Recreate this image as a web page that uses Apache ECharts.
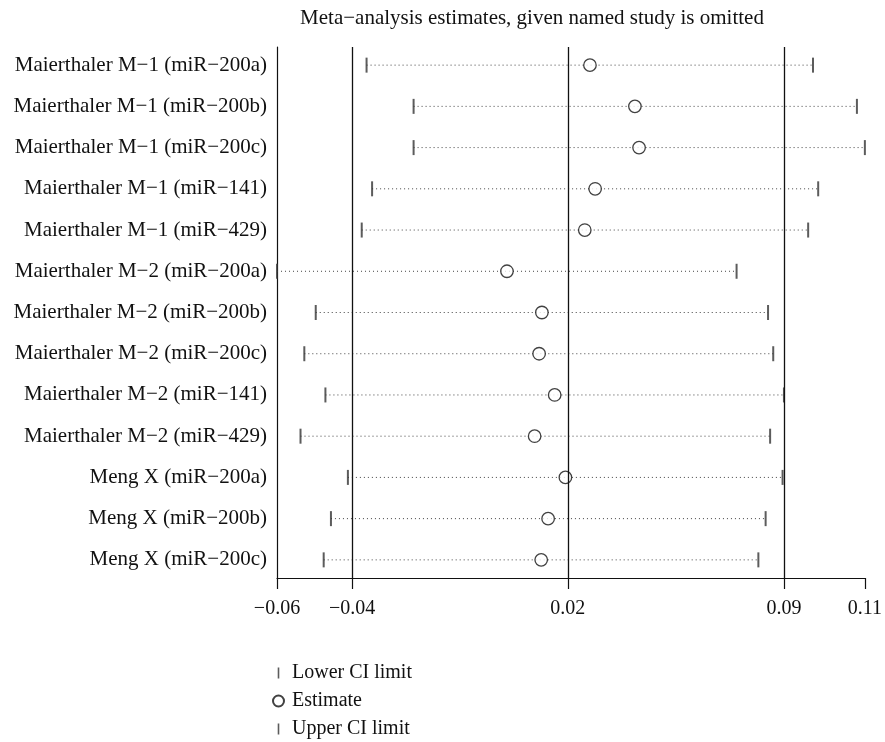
<!DOCTYPE html>
<html>
<head>
<meta charset="utf-8">
<script src="https://cdn.jsdelivr.net/npm/echarts@6/dist/echarts.min.js"></script>
<style>
  html, body { margin: 0; padding: 0; background: #fff; }
  #chart { width: 885px; height: 742px; }
</style>
</head>
<body>
<div id="chart"></div>
<script>
const studies = [
  'Maierthaler M\u22121 (miR\u2212200a)',
  'Maierthaler M\u22121 (miR\u2212200b)',
  'Maierthaler M\u22121 (miR\u2212200c)',
  'Maierthaler M\u22121 (miR\u2212141)',
  'Maierthaler M\u22121 (miR\u2212429)',
  'Maierthaler M\u22122 (miR\u2212200a)',
  'Maierthaler M\u22122 (miR\u2212200b)',
  'Maierthaler M\u22122 (miR\u2212200c)',
  'Maierthaler M\u22122 (miR\u2212141)',
  'Maierthaler M\u22122 (miR\u2212429)',
  'Meng X (miR\u2212200a)',
  'Meng X (miR\u2212200b)',
  'Meng X (miR\u2212200c)'
]
const lowerCI = [-0.0341, -0.0205, -0.0205, -0.0325, -0.0355, -0.0600, -0.0488, -0.0521, -0.0460, -0.0532, -0.0395, -0.0444, -0.0465]
const estimate = [0.0305, 0.0435, 0.0447, 0.0320, 0.0290, 0.0065, 0.0166, 0.0158, 0.0203, 0.0145, 0.0234, 0.0184, 0.0164]
const upperCI = [0.0950, 0.1077, 0.1100, 0.0965, 0.0936, 0.0729, 0.0820, 0.0835, 0.0866, 0.0826, 0.0862, 0.0813, 0.0792]

// overall lower CI, estimate, upper CI sit in the middle of the tick list
const xTickValues = [-0.06, -0.0383, 0.0241, 0.0866, 0.11]
const xTickLabels = ['\u22120.06', '\u22120.04', '0.02', '0.09', '0.11']
const refLines = xTickValues.slice(1, 4)

const serif = '"Liberation Serif", "DejaVu Serif", serif'
const barIcon = 'path://M0,0 L1.6,0 L1.6,11 L0,11 Z'

let chart = echarts.init(document.getElementById('chart'))
let option = {
  animation: false,
  backgroundColor: '#fff',
  title: {
    text: 'Meta\u2212analysis estimates, given named study is omitted',
    left: 527,
    textAlign: 'center',
    top: 3,
    textStyle: { fontFamily: serif, fontSize: 21, fontWeight: 'normal', color: '#111' }
  },
  legend: {
    orient: 'vertical',
    left: 272,
    top: 663,
    padding: 0,
    itemWidth: 11,
    itemHeight: 11,
    itemGap: 8,
    textStyle: { fontFamily: serif, fontSize: 20, color: '#111', padding: [0, 0, 0, 3] },
    data: [
      { name: 'Lower CI limit', icon: barIcon },
      { name: 'Estimate', icon: 'circle' },
      { name: 'Upper CI limit', icon: barIcon }
    ]
  },
  grid: {
    left: 277,
    right: 18,
    top: 47,
    bottom: 164
  },
  xAxis: {
    type: 'value',
    min: -0.06,
    max: 0.11,
    axisLine: { onZero: false, lineStyle: { color: '#111', width: 1.2 } },
    axisTick: { customValues: xTickValues, length: 11, lineStyle: { color: '#111', width: 1.2 } },
    axisLabel: {
      customValues: xTickValues,
      margin: 21,
      fontFamily: serif,
      fontSize: 20,
      color: '#111',
      formatter: v => xTickLabels[xTickValues.indexOf(v)]
    },
    splitLine: { show: false }
  },
  yAxis: {
    type: 'value',
    inverse: true,
    min: -0.44,
    max: 12.44,
    axisLine: { show: true, onZero: false, lineStyle: { color: '#111', width: 1.2 } },
    axisTick: { show: false },
    axisLabel: {
      customValues: studies.map((s, i) => i),
      margin: 10,
      fontFamily: serif,
      fontSize: 21,
      color: '#111',
      formatter: v => studies[v]
    },
    splitLine: { show: false }
  },
  series: [
    {
      name: 'CI',
      type: 'custom',
      silent: true,
      data: studies.map((s, i) => [lowerCI[i], upperCI[i], i]),
      encode: { x: [0, 1], y: 2 },
      renderItem: (params, api) => {
        const p1 = api.coord([api.value(0), api.value(2)])
        const p2 = api.coord([api.value(1), api.value(2)])
        return {
          type: 'line',
          shape: { x1: p1[0], y1: p1[1], x2: p2[0], y2: p2[1] },
          style: { stroke: '#444', lineWidth: 1, lineDash: [1, 3] }
        }
      }
    },
    {
      name: 'Lower CI limit',
      type: 'scatter',
      symbol: 'rect',
      symbolSize: [2, 15],
      itemStyle: { color: '#333' },
      data: lowerCI.map((v, i) => [v, i]),
      markLine: {
        silent: true,
        symbol: 'none',
        precision: 6,
        label: { show: false },
        lineStyle: { color: '#111', type: 'solid', width: 1.3 },
        data: refLines.map(v => ({ xAxis: v }))
      }
    },
    {
      name: 'Upper CI limit',
      type: 'scatter',
      symbol: 'rect',
      symbolSize: [2, 15],
      itemStyle: { color: '#333' },
      data: upperCI.map((v, i) => [v, i])
    },
    {
      name: 'Estimate',
      type: 'scatter',
      symbol: 'circle',
      symbolSize: 12.5,
      itemStyle: { color: '#fff', borderColor: '#111', borderWidth: 1.3 },
      data: estimate.map((v, i) => [v, i])
    }
  ]
}

option && chart.setOption(option)
</script>
</body>
</html>
